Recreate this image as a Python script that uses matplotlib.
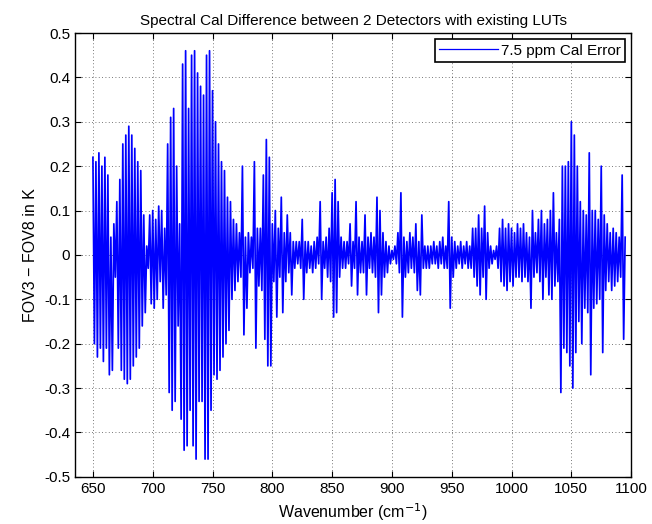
import numpy as np
import matplotlib
matplotlib.use("Agg")
import matplotlib.pyplot as plt
from matplotlib.ticker import FuncFormatter

# Spectral difference FOV3 - FOV8 (K), read off the figure as alternating
# peak/trough values on a 1.25 cm^-1 grid starting at 650 cm^-1
wn_start = 650.0
wn_step = 1.25
fov_diff = [
    0.22, -0.20, 0.21, -0.23, 0.23, -0.21, 0.20, -0.24,    # 650
    0.22, -0.21, 0.18, -0.27, 0.04, -0.26, 0.07, -0.05,    # 660
    0.12, -0.21, 0.17, -0.26, 0.25, -0.28, 0.27, -0.29,    # 670
    0.29, -0.28, 0.27, -0.25, 0.24, -0.23, 0.21, -0.21,    # 680
    0.19, -0.16, 0.09, -0.13, 0.02, -0.03, 0.09, -0.11,    # 690
    0.10, -0.12, 0.08, -0.10, 0.11, -0.06, 0.10, -0.12,    # 700
    0.06, -0.09, 0.25, -0.31, 0.31, -0.35, 0.33, -0.33,    # 710
    0.20, -0.16, 0.07, -0.37, 0.43, -0.44, 0.46, -0.43,    # 720
    0.33, -0.35, 0.45, -0.43, 0.46, -0.46, 0.41, -0.33,    # 730
    0.38, -0.33, 0.36, -0.46, 0.45, -0.46, 0.46, -0.35,    # 740
    0.37, -0.27, 0.30, -0.28, 0.25, -0.26, 0.21, -0.23,    # 750
    0.19, -0.20, 0.13, -0.17, 0.12, -0.10, 0.08, -0.08,    # 760
    0.07, -0.06, 0.05, -0.05, 0.20, -0.18, 0.04, -0.12,    # 770
    0.05, -0.04, 0.04, -0.03, 0.21, -0.21, 0.06, -0.07,    # 780
    0.06, -0.08, 0.18, -0.19, 0.26, -0.25, 0.22, -0.25,    # 790
    0.07, -0.06, 0.10, -0.14, 0.06, -0.05, 0.13, -0.13,    # 800
    0.05, -0.06, 0.09, -0.04, 0.05, -0.09, 0.03, -0.03,    # 810
    0.03, -0.02, 0.03, -0.03, 0.08, -0.10, 0.03, -0.04,    # 820
    0.03, -0.03, 0.02, -0.04, 0.03, -0.03, 0.04, -0.02,    # 830
    0.12, -0.10, 0.03, -0.03, 0.04, -0.05, 0.06, -0.06,    # 840
    0.14, -0.14, 0.17, -0.13, 0.12, -0.05, 0.04, -0.03,    # 850
    0.03, -0.03, 0.03, -0.02, 0.07, -0.07, 0.03, -0.03,    # 860
    0.12, -0.09, 0.04, -0.04, 0.03, -0.04, 0.09, -0.09,    # 870
    0.04, -0.03, 0.05, -0.04, 0.04, -0.05, 0.13, -0.13,    # 880
    0.10, -0.09, 0.05, -0.05, 0.03, -0.04, 0.02, -0.02,    # 890
    0.01, -0.01, 0.02, -0.02, 0.05, -0.04, 0.14, -0.14,    # 900
    0.04, -0.05, 0.03, -0.04, 0.05, -0.03, 0.04, -0.04,    # 910
    0.07, -0.08, 0.03, -0.09, 0.09, -0.03, 0.02, -0.03,    # 920
    0.02, -0.03, 0.02, -0.02, 0.03, -0.02, 0.02, -0.03,    # 930
    0.03, -0.02, 0.04, -0.03, 0.02, -0.03, 0.12, -0.12,    # 940
    0.04, -0.05, 0.03, -0.03, 0.02, -0.02, 0.03, -0.03,    # 950
    0.02, -0.02, 0.03, -0.03, 0.02, -0.03, 0.06, -0.05,    # 960
    0.06, -0.07, 0.09, -0.09, 0.06, -0.05, 0.11, -0.10,    # 970
    0.05, -0.03, 0.02, -0.02, 0.01, -0.01, 0.02, -0.03,    # 980
    0.06, -0.06, 0.08, -0.07, 0.06, -0.08, 0.07, -0.06,    # 990
    0.06, -0.07, 0.05, -0.05, 0.07, -0.05, 0.06, -0.06,    # 1000
    0.07, -0.05, 0.05, -0.06, 0.04, -0.12, 0.10, -0.05,    # 1010
    0.05, -0.04, 0.08, -0.06, 0.10, -0.10, 0.07, -0.05,    # 1020
    0.08, -0.09, 0.10, -0.10, 0.14, -0.07, 0.05, -0.06,    # 1030
    0.08, -0.31, 0.20, -0.21, 0.20, -0.22, 0.21, -0.25,    # 1040
    0.30, -0.30, 0.27, -0.22, 0.20, -0.15, 0.12, -0.20,    # 1050
    0.10, -0.12, 0.09, -0.13, 0.23, -0.27, 0.10, -0.12,    # 1060
    0.10, -0.11, 0.08, -0.10, 0.20, -0.22, 0.09, -0.08,    # 1070
    0.07, -0.06, 0.05, -0.08, 0.06, -0.07, 0.05, -0.06,    # 1080
    0.04, -0.05, 0.18, -0.19, 0.04,                        # 1090
]
legend_label = "7.5 ppm Cal Error"
y_ticks = [-0.5, -0.4, -0.3, -0.2, -0.1, 0, 0.1, 0.2, 0.3, 0.4, 0.5]
x_ticks = [650, 700, 750, 800, 850, 900, 950, 1000, 1050, 1100]

wn = wn_start + wn_step * np.arange(len(fov_diff))

plt.rcParams['font.family'] = ['Liberation Sans', 'DejaVu Sans']

fig = plt.figure(figsize=(6.52, 5.24), dpi=100)
ax = fig.add_axes([0.115, 0.090, 0.853, 0.847])
ax.plot(wn, fov_diff, color='#0000ff', linewidth=1.25, label=legend_label)

ax.set_xlim(635, 1100)
ax.set_ylim(-0.5, 0.5)
ax.set_xticks(x_ticks)
ax.set_yticks(y_ticks)
ax.yaxis.set_major_formatter(FuncFormatter(lambda v, p: '%g' % round(v, 2)))
ax.tick_params(direction='in', top=True, right=True, labelsize=11, length=4)
ax.grid(True, linestyle=(0, (1, 3)), color='black', linewidth=0.6, alpha=0.7)
for s in ax.spines.values():
    s.set_linewidth(1.0)

ax.set_xlabel('Wavenumber (cm$^{-1}$)', fontsize=11.5)
ax.set_ylabel('FOV3 \u2212 FOV8 in K', fontsize=11.5)
ax.set_title('Spectral Cal Difference between 2 Detectors with existing LUTs', fontsize=11)

leg = ax.legend(loc='upper right', fontsize=11, fancybox=False, framealpha=1,
                edgecolor='black', borderaxespad=0.4, handlelength=3.8,
                handletextpad=0.2, borderpad=0.3)
leg.get_frame().set_linewidth(1.2)
leg.get_lines()[0].set_linewidth(0.9)

fig.savefig('out.png', dpi=100)
